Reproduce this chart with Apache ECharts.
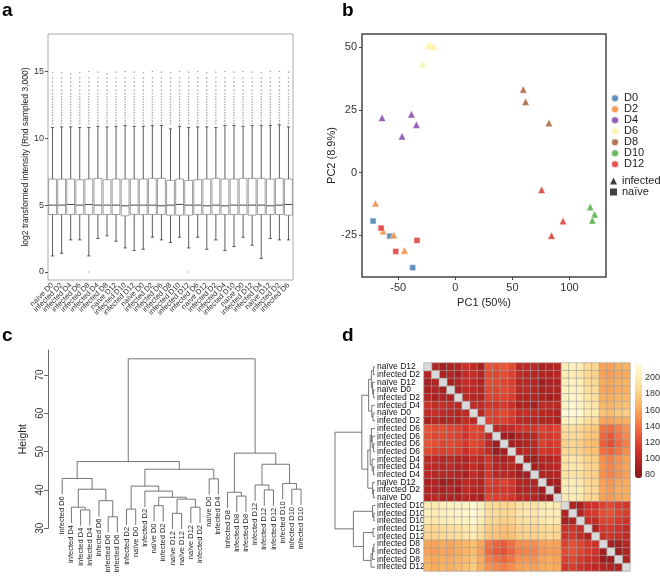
<!DOCTYPE html>
<html><head><meta charset="utf-8">
<script src="https://cdn.jsdelivr.net/npm/echarts@6/dist/echarts.min.js"></script>
<style>html,body{margin:0;padding:0;background:#fff}#c{width:660px;height:578px}</style>
</head><body><div id="c"></div>
<script>
// ---------- Panel a: boxplots ----------
const A_LABELS = ["naïve D0","infected D2","infected D4","infected D6","infected D8","infected D4","infected D8","naïve D12","infected D10","infected D12","naïve D0","infected D2","infected D6","infected D8","infected D10","infected D12","infected D6","naïve D12","infected D2","infected D4","infected D10","naïve D0","infected D12","infected D4","naïve D12","infected D2","infected D6"];
const A_LOW  = [1.2,1.4,2.4,2.4,1.2,2.5,2.7,2.3,1.8,1.6,1.7,2.6,2.4,2.2,2.6,1.8,2.6,1.7,2.4,1.6,1.9,2.6,2.0,1.0,2.5,2.4,2.4];
const A_Q1   = [4.3,4.3,4.3,4.3,4.3,4.3,4.3,4.3,4.2,4.3,4.3,4.3,4.3,4.25,4.25,4.25,4.3,4.3,4.3,4.3,4.3,4.3,4.25,4.3,4.3,4.3,4.25];
const A_MED  = [5.0,5.0,5.05,5.0,5.05,5.0,5.0,5.0,4.95,5.0,5.0,5.0,4.95,5.0,5.05,5.0,5.0,4.95,5.0,4.95,5.0,5.0,5.0,5.0,4.95,5.0,5.05];
const A_Q3   = [6.95,6.95,6.95,6.9,6.95,7.0,6.9,6.95,6.95,6.95,6.95,7.0,7.0,6.85,6.95,6.85,6.9,6.95,7.0,6.95,6.95,7.0,7.0,7.0,6.95,7.0,6.95];
const A_HIGH = [10.8,10.85,10.85,10.8,10.8,10.9,10.85,10.9,10.95,10.9,10.9,10.95,10.95,10.7,10.9,10.8,10.85,10.85,10.8,10.95,10.95,10.9,10.95,10.95,10.95,11.0,10.85];
const A_MAX  = [14.9,14.9,14.85,14.9,15.0,14.95,14.85,14.95,15.0,14.95,14.9,15.0,14.95,14.9,15.0,14.95,15.0,14.9,14.95,15.0,14.95,15.0,14.95,14.9,15.0,15.0,14.95];
const A_OUT_LEVELS = [11.1,11.3,11.5,11.7,11.9,12.1,12.3,12.5,12.7,12.9,13.1,13.35,13.6,13.9,14.2,14.5];
const A_ZERO_OUT = [4, 15];
const A_TICKS = [0,5,10,15];

// ---------- Panel b: PCA ----------
const B_DAYS = ["D0","D2","D4","D6","D8","D10","D12"];
const B_COLORS = ["#3a78b2","#f4822a","#7b3aa8","#fbf39e","#a3542a","#45a836","#dc2b25"];
const B_PC1 = [-23.9,-21.6,-19.0,-28.6, 59.5,61.6,82.0, -64.2,-38.5,-34.1,-46.7, 75.6,94.3,84.3, 118.2,122.0,120.0, -70.0,-63.3,-54.0,-44.6, -72.1,-57.5,-37.4, -65.1,-52.2,-33.6];
const B_PC2 = [50.7,50.7,50.3,43.2, 33.2,28.3,19.8, 21.9,23.3,19.1,14.5, -6.8,-19.3,-25.1, -13.7,-16.6,-19.0, -12.2,-23.3,-24.9,-31.0, -19.3,-25.3,-37.9, -22.1,-31.4,-27.0];
const B_DAY = ["D6","D6","D6","D6","D8","D8","D8","D4","D4","D4","D4","D12","D12","D12","D10","D10","D10","D2","D2","D2","D2","D0","D0","D0","D12","D12","D12"];
const B_STATUS = ["infected","infected","infected","infected","infected","infected","infected","infected","infected","infected","infected","infected","infected","infected","infected","infected","infected","infected","infected","infected","infected","naïve","naïve","naïve","naïve","naïve","naïve"];
const B_XTICKS = [-50,0,50,100];
const B_YTICKS = [-25,0,25,50];

// ---------- Panel c: hierarchical clustering ----------
const C_LEAVES = ["infected D6","infected D4","infected D4","infected D4","infected D6","infected D6","infected D6","infected D2","naïve D0","infected D2","naïve D0","infected D2","naïve D12","naïve D12","naïve D12","infected D2","naïve D0","infected D4","infected D8","infected D8","infected D8","infected D12","infected D12","infected D12","infected D10","infected D10","infected D10"];
// R-style merge matrix: negative = leaf (1-based, display order), positive = earlier merge (1-based)
const C_MERGE_A = [-6,-13,-3,-8,-15,-2,-11,-5,2,7,-20,-19,-10,-23,-26,6,4,-22,-25,-17,-1,17,18,21,12,24];
const C_MERGE_B = [-7,-14,-4,-9,-16,3,-12,1,5,9,-21,11,10,-24,-27,8,13,14,15,-18,16,20,19,22,23,25];
const C_HEIGHT  = [33.0,33.9,34.8,35.0,35.5,35.5,35.9,37.2,37.6,38.1,38.4,39.4,39.7,40.0,40.2,40.2,41.0,41.3,41.7,42.9,43.0,45.4,46.7,47.4,49.6,74.2];
const C_TICKS = [30,40,50,60,70];

// ---------- Panel d: distance heatmap ----------
const H_LABELS = ["naïve D12","infected D2","naïve D12","naïve D0","infected D2","infected D4","naïve D0","infected D2","infected D6","infected D6","infected D6","infected D6","infected D4","infected D4","infected D4","naïve D12","infected D2","naïve D0","infected D10","infected D10","infected D10","infected D12","infected D12","infected D8","infected D8","infected D8","infected D12"];
// lower triangle, row i has values for columns 0..i-1
const H_LOWER = [
 [],
 [96],
 [90,95],
 [93,97,92],
 [98,92,96,94],
 [108,104,106,103,100],
 [104,106,102,100,98,102],
 [92,98,95,97,96,104,100],
 [126,122,124,121,118,112,120,119],
 [124,120,122,120,118,110,118,116,100],
 [128,124,120,122,119,114,122,118,102,88],
 [122,118,116,118,116,108,116,112,104,84,90],
 [100,102,98,100,98,94,104,100,110,96,94,98],
 [102,100,100,102,96,96,106,98,112,98,96,100,90],
 [100,98,98,98,96,92,104,97,112,100,100,98,88,90],
 [92,96,86,92,94,102,100,95,118,114,118,112,98,96,95],
 [96,95,94,96,90,102,98,96,114,112,112,110,96,97,95,88],
 [98,100,96,95,94,100,96,92,120,116,116,112,100,100,98,90,84],
 [200,198,202,204,206,208,214,204,188,186,182,184,192,194,192,198,200,198],
 [204,200,205,206,210,212,216,206,190,188,184,186,194,196,194,200,202,200,95],
 [198,196,200,202,204,206,212,200,186,184,180,182,190,192,190,196,198,196,92,96],
 [186,184,188,190,192,196,200,190,178,176,172,174,182,184,182,186,188,186,108,112,106],
 [184,182,186,188,190,194,198,188,176,174,170,172,180,182,180,184,186,184,110,114,104,95],
 [160,158,162,160,164,168,172,160,140,134,130,138,150,152,150,158,160,158,118,124,120,112,108],
 [158,156,160,158,162,166,170,158,136,128,124,134,144,146,146,154,156,156,122,126,120,114,110,90],
 [164,160,164,162,166,170,176,162,144,138,134,140,152,154,152,160,162,160,116,120,114,108,106,88,86],
 [166,162,166,164,168,172,178,164,152,148,144,150,158,160,158,162,164,162,112,116,110,104,102,98,96,94]
];
const H_MERGE_A = [-1,-4,-3,1,-7,-6,4,-11,-10,-9,-14,-13,10,-17,-16,13,7,-20,-19,-22,-24,-26,-27,20,19,17];
const H_MERGE_B = [-2,-5,2,3,-8,5,6,-12,8,9,-15,11,12,-18,14,15,16,-21,18,-23,-25,21,22,23,24,25];
const H_HEIGHT  = [4,4,6,9,5,8,16,4,7,9,4,7,12,4,6,18,33,3,6,5,3,6,10,29,54,100];
const H_COLORBAR_TICKS = [80,100,120,140,160,180,200];
const H_PALETTE = ['#841a1e','#ac2220','#d2332a','#eb5836','#f6854a','#fab05f','#fdd38a','#feedb4','#fffbd8'];

const FONT = 'Liberation Sans, Arial, Helvetica, sans-serif';

// ---- helpers ----
function layoutTree(ma, mb, hs, hang) {
  const nx = [], nh = [], items = [], leafEnd = {};
  for (let k = 0; k < hs.length; k++) {
    const h = hs[k];
    const side = (r) => {
      if (r < 0) { const i = -r - 1; const e = hang === null ? 0 : h - hang; leafEnd[i] = e; return [i, e]; }
      return [nx[r - 1], nh[r - 1]];
    };
    const [ax, ah] = side(ma[k]);
    const [bx, bh] = side(mb[k]);
    nx[k] = (ax + bx) / 2; nh[k] = h;
    items.push([ax, bx, h, ah, bh]);
  }
  return { items, leafEnd };
}

// panel a data
const boxData = A_LABELS.map((_, i) => [i, A_LOW[i], A_Q1[i], A_MED[i], A_Q3[i], A_HIGH[i]]);
const outData = [];
A_LABELS.forEach((_, i) => {
  A_OUT_LEVELS.forEach(v => outData.push([i, v]));
  outData.push([i, A_MAX[i]]);
});
A_ZERO_OUT.forEach(i => outData.push([i, 0]));

// panel b series
const daySeries = B_DAYS.map((d, k) => ({
  type: 'scatter', name: d, xAxisIndex: 1, yAxisIndex: 1,
  itemStyle: { color: B_COLORS[k], borderColor: '#fff', borderWidth: 0.6 },
  data: B_PC1.map((x, i) => ({ x, i })).filter(o => B_DAY[o.i] === d).map(o => ({
    value: [o.x, B_PC2[o.i]],
    symbol: B_STATUS[o.i] === 'infected' ? 'triangle' : 'rect',
    symbolSize: B_STATUS[o.i] === 'infected' ? 7.5 : 6
  })),
  z: 3
}));

// panel c
const cRange = Math.max(...C_HEIGHT) - Math.min(...C_HEIGHT);
const cTree = layoutTree(C_MERGE_A, C_MERGE_B, C_HEIGHT, 0.1 * cRange);
const cLabelData = C_LEAVES.map((l, i) => [i, cTree.leafEnd[i]]);

// panel d
const hN = H_LABELS.length;
const heatData = [], diagData = [];
for (let i = 0; i < hN; i++) {
  for (let j = 0; j < hN; j++) {
    if (i === j) { diagData.push([j, i, 0]); continue; }
    const v = i > j ? H_LOWER[i][j] : H_LOWER[j][i];
    heatData.push([j, i, v]);
  }
}
const hTree = layoutTree(H_MERGE_A, H_MERGE_B, H_HEIGHT, null);

function treeRenderer(horizontal, color, lw) {
  return function (params, api) {
    const xl = api.value(0), xr = api.value(1), h = api.value(2), hl = api.value(3), hr = api.value(4);
    const c = (pos, hh) => horizontal ? api.coord([hh, pos]) : api.coord([pos, hh]);
    const pts = [c(xl, hl), c(xl, h), c(xr, h), c(xr, hr)];
    return { type: 'polyline', shape: { points: pts }, style: { stroke: color, lineWidth: lw, fill: null } };
  };
}

const chart = echarts.init(document.getElementById('c'), null, { renderer: 'canvas' });
const heatSeriesIndex = 13;
const option = {
  animation: false,
  textStyle: { fontFamily: FONT },
  grid: [
    { left: 48, top: 34, width: 245, height: 246, show: true, borderColor: '#aaa', borderWidth: 1, outerBoundsMode: 'none' },
    { left: 362, top: 34, width: 244, height: 243, show: true, borderColor: '#444', borderWidth: 1.5, outerBoundsMode: 'none' },
    { left: 48, top: 350, width: 259, height: 178.3, outerBoundsMode: 'none' },
    { left: 424, top: 363, width: 206, height: 208, outerBoundsMode: 'none' },
    { left: 335, top: 363, width: 40, height: 208, outerBoundsMode: 'none' },
    { left: 642, top: 364, width: 1, height: 114, outerBoundsMode: 'none' }
  ],
  xAxis: [
    { gridIndex: 0, type: 'category', data: A_LABELS, boundaryGap: true,
      axisLine: { show: false }, axisTick: { show: false },
      axisLabel: { interval: 0, rotate: 45, fontSize: 7.5, color: '#333', margin: 4 } },
    { gridIndex: 1, type: 'value', min: -81.8, max: 132, splitLine: { show: false },
      axisLine: { show: false, onZero: false },
      axisTick: { show: true, length: 3, customValues: B_XTICKS, lineStyle: { color: '#444' } },
      axisLabel: { customValues: B_XTICKS, fontSize: 11, color: '#333', margin: 5 },
      name: 'PC1 (50%)', nameLocation: 'middle', nameGap: 20, nameTextStyle: { fontSize: 11, color: '#222' } },
    { gridIndex: 2, type: 'value', min: -1.55, max: 26.65, show: false, axisLine: { onZero: false } },
    { gridIndex: 3, type: 'category', data: H_LABELS.map((_, i) => String(i)), show: false },
    { gridIndex: 4, type: 'value', min: 0, max: 100, inverse: true, show: false, axisLine: { onZero: false } },
    { gridIndex: 5, type: 'value', show: false, axisLine: { onZero: false } }
  ],
  yAxis: [
    { gridIndex: 0, type: 'value', min: -0.6, max: 17.8, splitLine: { show: false },
      axisLine: { show: false, onZero: false },
      axisTick: { show: true, length: 3, customValues: A_TICKS, lineStyle: { color: '#555' } },
      axisLabel: { customValues: A_TICKS, fontSize: 9, color: '#333', margin: 4 },
      name: 'log2 transformed intensity (Rnd sampled 3,000)', nameLocation: 'middle', nameGap: 12,
      nameTextStyle: { fontSize: 8.5, color: '#222' } },
    { gridIndex: 1, type: 'value', min: -41.6, max: 55.3, splitLine: { show: false },
      axisLine: { show: false, onZero: false },
      axisTick: { show: true, length: 3, customValues: B_YTICKS, lineStyle: { color: '#444' } },
      axisLabel: { customValues: B_YTICKS, fontSize: 11, color: '#333', margin: 5 },
      name: 'PC2 (8.9%)', nameLocation: 'middle', nameGap: 22, nameTextStyle: { fontSize: 11, color: '#222' } },
    { gridIndex: 2, type: 'value', min: 30, max: 76.5, splitLine: { show: false },
      axisLine: { show: true, onZero: false, lineStyle: { color: '#444', width: 0.8 } },
      axisTick: { show: true, length: 4, customValues: C_TICKS, lineStyle: { color: '#444', width: 0.8 } },
      axisLabel: { customValues: C_TICKS, rotate: 90, fontSize: 10, color: '#333', margin: 3 },
      name: 'Height', nameLocation: 'middle', nameGap: 19, nameTextStyle: { fontSize: 10.5, color: '#222' } },
    { gridIndex: 3, type: 'category', inverse: true, data: H_LABELS.map((_, i) => String(i)),
      axisLine: { show: false }, axisTick: { show: false },
      axisLabel: { interval: 0, align: 'left', margin: 47, fontSize: 8.5, color: '#111',
        formatter: (v, i) => H_LABELS[i] } },
    { gridIndex: 4, type: 'value', min: -0.5, max: hN - 0.5, inverse: true, show: false, axisLine: { onZero: false } },
    { gridIndex: 5, type: 'value', min: 76, max: 217, position: 'right', splitLine: { show: false },
      axisLine: { show: false, onZero: false }, axisTick: { show: false },
      axisLabel: { customValues: H_COLORBAR_TICKS, fontSize: 9, color: '#333', margin: 2 } }
  ],
  legend: [
    { data: B_DAYS, orient: 'vertical', left: 610, top: 92.8, icon: 'circle', itemWidth: 8, itemHeight: 8,
      itemGap: 0, padding: 0, textStyle: { fontSize: 11, color: '#222', lineHeight: 11 }, selectedMode: false },
    { data: [{ name: 'infected', icon: 'triangle' }, { name: 'naïve', icon: 'rect' }], orient: 'vertical',
      left: 610, top: 175.5, itemWidth: 7, itemHeight: 7, itemGap: 0, padding: 0,
      textStyle: { fontSize: 11, color: '#222', lineHeight: 11 }, selectedMode: false }
  ],
  visualMap: [{
    type: 'continuous', min: 76, max: 217, seriesIndex: heatSeriesIndex, orient: 'vertical',
    left: 635, top: 364, itemWidth: 7, itemHeight: 114, calculable: false, padding: 0,
    inRange: { color: H_PALETTE }, hoverLink: false, text: null, textStyle: { fontSize: 0 }
  }],
  series: [
    // 0 outliers
    { type: 'scatter', xAxisIndex: 0, yAxisIndex: 0, data: outData, symbolSize: 1.6,
      itemStyle: { color: '#9a8c8c' }, silent: true },
    // 1 boxes
    { type: 'custom', xAxisIndex: 0, yAxisIndex: 0, data: boxData, silent: true,
      renderItem: function (params, api) {
        const i = api.value(0);
        const lo = api.coord([i, api.value(1)]), q1 = api.coord([i, api.value(2)]);
        const md = api.coord([i, api.value(3)]), q3 = api.coord([i, api.value(4)]);
        const hi = api.coord([i, api.value(5)]);
        const bw = api.size([1, 0])[0];
        const hw = bw * 0.43, sw = bw * 0.18, x = q1[0];
        const ws = { stroke: '#333', lineWidth: 0.8 };
        return { type: 'group', children: [
          { type: 'line', shape: { x1: x, y1: q3[1], x2: x, y2: hi[1] }, style: ws },
          { type: 'line', shape: { x1: x, y1: q1[1], x2: x, y2: lo[1] }, style: ws },
          { type: 'line', shape: { x1: x - sw, y1: hi[1], x2: x + sw, y2: hi[1] }, style: ws },
          { type: 'line', shape: { x1: x - sw, y1: lo[1], x2: x + sw, y2: lo[1] }, style: ws },
          { type: 'rect', shape: { x: x - hw, y: q3[1], width: 2 * hw, height: q1[1] - q3[1] },
            style: { fill: '#fff', stroke: '#888', lineWidth: 0.8 } },
          { type: 'line', shape: { x1: x - hw, y1: md[1], x2: x + hw, y2: md[1] }, style: { stroke: '#333', lineWidth: 0.9 } }
        ] };
      } },
    // 2-8 PCA day series
    ...daySeries,
    // 9,10 legend shape dummies
    { type: 'scatter', name: 'infected', xAxisIndex: 1, yAxisIndex: 1, data: [], symbol: 'triangle', itemStyle: { color: '#111' } },
    { type: 'scatter', name: 'naïve', xAxisIndex: 1, yAxisIndex: 1, data: [], symbol: 'rect', itemStyle: { color: '#111' } },
    // 11 dendrogram c
    { type: 'custom', xAxisIndex: 2, yAxisIndex: 2, data: cTree.items, silent: true, clip: false,
      renderItem: treeRenderer(false, '#666', 0.9) },
    // 12 leaf labels c
    { type: 'custom', xAxisIndex: 2, yAxisIndex: 2, data: cLabelData, silent: true, clip: false,
      renderItem: function (params, api) {
        const p = api.coord([api.value(0), api.value(1)]);
        return { type: 'text', x: p[0], y: p[1] + 2, rotation: Math.PI / 2,
          style: { text: C_LEAVES[params.dataIndex], fontSize: 7.5, fontFamily: FONT, fill: '#222',
            align: 'right', verticalAlign: 'middle' } };
      } },
    // 13 heatmap
    { type: 'heatmap', xAxisIndex: 3, yAxisIndex: 3, data: heatData, silent: true,
      itemStyle: { borderColor: '#a0a0a0', borderWidth: 0.6 } },
    // 14 diagonal
    { type: 'heatmap', xAxisIndex: 3, yAxisIndex: 3, data: diagData, silent: true,
      itemStyle: { color: '#d9d9d9', borderColor: '#a0a0a0', borderWidth: 0.6 } },
    // 15 row dendrogram d
    { type: 'custom', xAxisIndex: 4, yAxisIndex: 4, data: hTree.items, silent: true, clip: false,
      renderItem: treeRenderer(true, '#555', 0.8) },
    // 16 dummy for colorbar axis
    { type: 'line', xAxisIndex: 5, yAxisIndex: 5, data: [], silent: true }
  ],
  graphic: [
    { type: 'text', x: 2, y: 1, style: { text: 'a', font: 'bold 19px ' + FONT, fill: '#000' } },
    { type: 'text', x: 342, y: 1, style: { text: 'b', font: 'bold 19px ' + FONT, fill: '#000' } },
    { type: 'text', x: 2, y: 326, style: { text: 'c', font: 'bold 19px ' + FONT, fill: '#000' } },
    { type: 'text', x: 342, y: 326, style: { text: 'd', font: 'bold 19px ' + FONT, fill: '#000' } }
  ]
};
chart.setOption(option);
</script>
</body></html>
